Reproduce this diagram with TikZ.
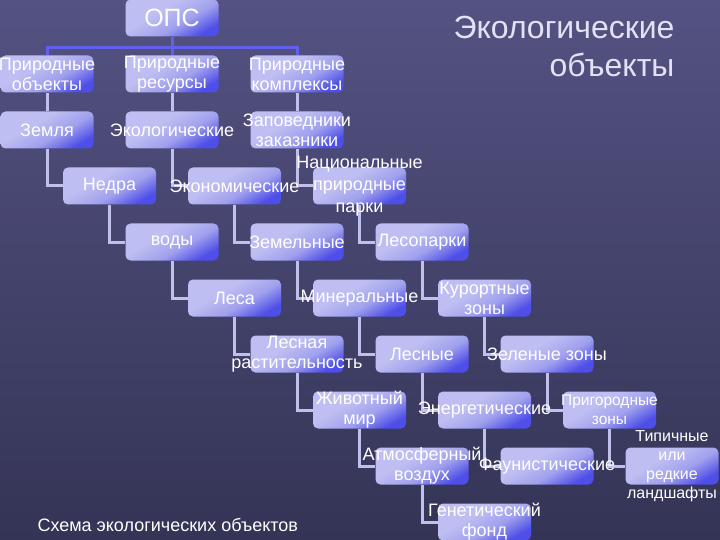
\documentclass[tikz,border=0pt]{standalone}
\usepackage{fontspec}
\setmainfont{Liberation Sans}
\usetikzlibrary{backgrounds}
\definecolor{bgtop}{RGB}{84,82,130}
\definecolor{bgbot}{RGB}{52,52,86}
\definecolor{boxlight}{RGB}{190,190,242}
\definecolor{boxmid}{RGB}{160,160,238}
\definecolor{boxblue}{RGB}{78,78,232}
\definecolor{linkcol}{RGB}{192,192,236}
\definecolor{buscol}{RGB}{96,96,236}
\definecolor{titlecol}{RGB}{226,226,244}
\pgfdeclareverticalshading{boxshade}{100bp}{color(0bp)=(boxblue); color(25bp)=(boxblue);
  color(42bp)=(boxmid); color(60bp)=(boxlight); color(100bp)=(boxlight)}

\begin{document}
\begin{tikzpicture}[x=1pt, y=-1pt,
obj/.style={rounded corners=5pt, minimum width=93pt, minimum height=37pt,
  inner sep=0pt, shading=boxshade, shading angle=30},
txt/.style={text=white, align=center, font=\fontsize{18}{20}\selectfont},
link/.style={draw=linkcol, line width=3pt},
bus/.style={draw=buscol, line width=3pt}]
\useasboundingbox (0,0) rectangle (720,540);
\clip (0,0) rectangle (720,540);
\foreach \n/\c/\r/\t in {po/0/1/{Природные\\объекты},
  pr/2/1/{Природные\\ресурсы}, pk/4/1/{Природные\\комплексы},
  zem/0/2/Земля, eco/2/2/Экологические, zap/4/2/{Заповедники\\заказники},
  nedra/1/3/Недра, econ/3/3/Экономические,
  vody/2/4/воды, zemel/4/4/Земельные, lesop/6/4/Лесопарки,
  lesa/3/5/Леса, miner/5/5/Минеральные, kur/7/5/{Курортные\\зоны},
  lesrast/4/6/{Лесная\\растительность}, lesn/6/6/Лесные, zel/8/6/{Зеленые зоны},
  zhiv/5/7/{Животный\\мир}, energ/7/7/Энергетические,
  atm/6/8/{Атмосферный\\воздух}, faun/8/8/Фаунистические,
  gen/7/9/{Генетический\\фонд}}
{
  \node[obj] (\n) at ({47+62.5*\c},{18+56*\r}) {};
  \node[txt] at (\n) {\t};
}
\node[obj] (ops) at ({47+62.5*2},18) {};
\node[txt, font=\fontsize{25}{28}\selectfont] at (ops) {ОПС};
\node[obj] (nat) at ({47+62.5*5},{18+56*3}) {};
\node[txt, font=\fontsize{18}{22}\selectfont] at (nat) {Национальные\\природные\\парки};
\node[obj] (prig) at ({47+62.5*9},{18+56*7}) {};
\node[txt, font=\fontsize{15.5}{19}\selectfont] at (prig) {Пригородные\\зоны};
\node[obj] (tip) at ({47+62.5*10},{18+56*8}) {};
\node[txt, font=\fontsize{16}{19}\selectfont] at (tip) {Типичные\\или\\редкие\\ландшафты};

\node[text=titlecol, align=right, anchor=north east, font=\fontsize{32}{38}\selectfont]
  (title) at (678,13) {Экологические\\объекты};
\node[text=white, anchor=base west, font=\fontsize{18}{20}\selectfont]
  (caption) at (34,531) {Схема экологических объектов};

\begin{scope}[on background layer]
\fill[top color=bgtop, bottom color=bgbot] (0,0) rectangle (720,540);
\coordinate (bus) at (172,48);
\draw[bus] (ops) -- (bus) -| (po) (bus) -| (pk) (bus) -- (pr);
\foreach \a/\b in {po/zem, pr/eco, pk/zap}
  \draw[link] (\a) -- (\b);
\foreach \a/\b in {zem/nedra, eco/econ, zap/nat, nedra/vody, econ/zemel, nat/lesop,
  vody/lesa, zemel/miner, lesop/kur, lesa/lesrast, miner/lesn, kur/zel,
  lesrast/zhiv, lesn/energ, zel/prig, zhiv/atm, energ/faun, prig/tip, atm/gen}
  \draw[link] (\a) |- (\b);
\end{scope}
\end{tikzpicture}
\end{document}
